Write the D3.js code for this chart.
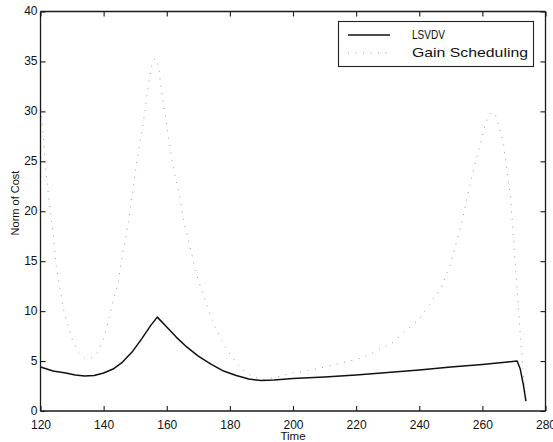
<!DOCTYPE html>
<html>
<head>
<meta charset="utf-8">
<script src="https://cdn.jsdelivr.net/npm/d3@7"></script>
<style>
  body { margin: 0; background: #fff; }
  svg { display: block; }
  text { font-family: "Liberation Sans", Arial, Helvetica, sans-serif; fill: #111; }
</style>
</head>
<body>
<svg id="chart" width="553" height="442"></svg>
<script>
// ---- data ----
const seriesNames = ["LSVDV", "Gain Scheduling"];
const lsvdvTime  = [120, 124, 128, 131, 134, 137, 140, 143, 146, 149, 152, 155, 157, 160, 163, 166, 170, 174, 178, 182, 186, 190, 194, 200, 210, 220, 230, 240, 250, 260, 271, 272, 273, 273.8];
const lsvdvValue = [4.4, 4.0, 3.8, 3.6, 3.5, 3.55, 3.8, 4.2, 4.9, 5.9, 7.2, 8.6, 9.4, 8.4, 7.4, 6.5, 5.5, 4.7, 4.0, 3.55, 3.2, 3.05, 3.1, 3.25, 3.4, 3.6, 3.85, 4.1, 4.4, 4.65, 5.0, 4.2, 2.6, 1.0];
const gainTime  = [120, 120.5, 121, 121.7, 123, 124, 125, 126.2, 127.2, 128.1, 130, 132, 134, 136, 138.2, 140, 141.4, 142.1, 144.6, 146, 147.6, 148.5, 150.7, 152.6, 154.3, 155.5, 156.4, 157.4, 158.3, 159.3, 160.3, 161.7, 162.6, 163.7, 164.5, 165.3, 168, 169, 172, 174.8, 178.6, 180.4, 183.4, 185.8, 187.5, 191, 196.2, 199.4, 202.3, 207.3, 214, 221.6, 224.4, 231.3, 240, 247, 250, 253.7, 256, 257.8, 259.5, 261, 262.5, 264, 266.6, 268.9, 270.8, 272.8, 273.8];
const gainValue = [31, 29, 27, 24, 20.3, 17.8, 14.5, 12.2, 10.3, 9.2, 7.2, 5.9, 5.3, 5.3, 5.9, 7.3, 8.9, 9.9, 12.8, 15.8, 18.4, 20.4, 25.4, 28.9, 32.9, 35.0, 35.3, 34.6, 32.1, 30.1, 28.0, 25.0, 23.6, 22.1, 20.8, 19.1, 15.6, 14.1, 11.2, 8.7, 6.4, 5.5, 4.3, 3.7, 3.4, 3.15, 3.5, 3.8, 3.9, 4.2, 4.7, 5.3, 5.7, 6.8, 9.2, 12.4, 14.8, 19.2, 22.6, 24.9, 26.9, 28.8, 29.8, 29.8, 27.0, 21.5, 13.0, 4.3, 1.0];
const xTicks = [120, 140, 160, 180, 200, 220, 240, 260, 280];
const yTicks = [0, 5, 10, 15, 20, 25, 30, 35, 40];

// ---- layout ----
const svg = d3.select("#chart");
const L = 40.5, R = 545.5, T = 11.5, B = 411;
const x = d3.scaleLinear().domain([120, 280]).range([L, R]);
const y = d3.scaleLinear().domain([0, 40]).range([B, T]);

const lsvdv = lsvdvTime.map((t, i) => [t, lsvdvValue[i]]);
const gain = gainTime.map((t, i) => [t, gainValue[i]]);
const line = d3.line().x(d => x(d[0])).y(d => y(d[1]));

// Gain Scheduling: faint, sparse dotted
svg.append("path").datum(gain)
  .attr("d", line)
  .attr("fill", "none")
  .attr("stroke", "#9a9a9a")
  .attr("stroke-width", 1)
  .attr("stroke-dasharray", "1,6.5");

// LSVDV: solid black
svg.append("path").datum(lsvdv)
  .attr("d", line)
  .attr("fill", "none")
  .attr("stroke", "#111")
  .attr("stroke-width", 1.5)
  .attr("stroke-linejoin", "round");

// axes (ticks inward, box)
const tickLen = 5;
const gx = svg.append("g").attr("transform", `translate(0,${B})`)
  .call(d3.axisBottom(x).tickValues(xTicks).tickSize(-tickLen).tickPadding(9).tickFormat(d3.format("d")));
const gxTop = svg.append("g").attr("transform", `translate(0,${T})`)
  .call(d3.axisTop(x).tickValues(xTicks).tickSize(-tickLen).tickFormat(""));
const gy = svg.append("g").attr("transform", `translate(${L},0)`)
  .call(d3.axisLeft(y).tickValues(yTicks).tickSize(-tickLen).tickPadding(3).tickFormat(d3.format("d")));
const gyR = svg.append("g").attr("transform", `translate(${R},0)`)
  .call(d3.axisRight(y).tickValues(yTicks).tickSize(-tickLen).tickFormat(""));

[gx, gxTop, gy, gyR].forEach(g => {
  g.select(".domain").attr("stroke", "#1a1a1a").attr("stroke-width", 1.3);
  g.selectAll(".tick line").attr("stroke", "#1a1a1a").attr("stroke-width", 1.1);
  g.selectAll(".tick text").attr("font-size", 12).attr("fill", "#111")
    .attr("font-family", "'Liberation Sans', Arial, sans-serif");
});
gy.selectAll(".tick text").attr("dy", "0.25em");
gx.select(".domain").attr("d", `M${L},0H${R}`);
gxTop.select(".domain").attr("d", `M${L},0H${R}`);
gy.select(".domain").attr("d", `M0,${B}V${T}`);
gyR.select(".domain").attr("d", `M0,${B}V${T}`);

// axis titles
svg.append("text")
  .attr("x", 293).attr("y", 440)
  .attr("text-anchor", "middle")
  .attr("font-size", 11.5)
  .text("Time");
svg.append("text")
  .attr("transform", "translate(19,203) rotate(-90)")
  .attr("text-anchor", "middle")
  .attr("font-size", 11)
  .text("Norm of Cost");

// legend
const lg = svg.append("g");
lg.append("rect")
  .attr("x", 338.5).attr("y", 21.5).attr("width", 195).attr("height", 45)
  .attr("fill", "#fff").attr("stroke", "#222").attr("stroke-width", 1.1);
lg.append("line")
  .attr("x1", 348).attr("x2", 390).attr("y1", 35).attr("y2", 35)
  .attr("stroke", "#111").attr("stroke-width", 1.5);
lg.append("line")
  .attr("x1", 348).attr("x2", 390).attr("y1", 53).attr("y2", 53)
  .attr("stroke", "#9a9a9a").attr("stroke-width", 1).attr("stroke-dasharray", "1,6.5");
lg.append("text").attr("x", 412).attr("y", 39).attr("font-size", 13)
  .attr("textLength", 33).attr("lengthAdjust", "spacingAndGlyphs")
  .text(seriesNames[0]);
lg.append("text").attr("x", 412).attr("y", 57).attr("font-size", 13.5)
  .attr("textLength", 116).attr("lengthAdjust", "spacingAndGlyphs")
  .text(seriesNames[1]);
</script>
</body>
</html>
